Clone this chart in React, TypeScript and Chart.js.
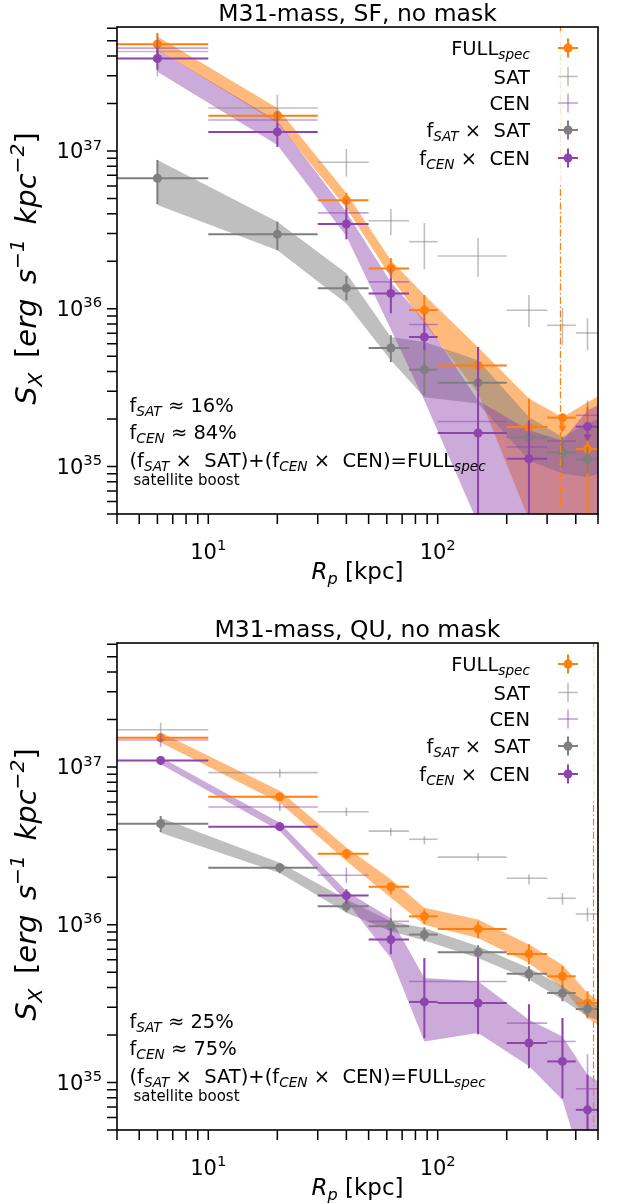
import React, { useEffect, useRef } from "react";
import { Chart, registerables } from "chart.js";

Chart.register(...registerables);

// ---------------- data ----------------
const TITLES = ["M31-mass, SF, no mask", "M31-mass, QU, no mask"];
const F_SAT_PCT = [16, 25];
const F_CEN_PCT = [84, 75];
const R_VIR = [343, 478];

const BIN_LO = [2, 10, 30, 50, 75, 100, 200, 300, 400, 500];
const BIN_HI = [10, 30, 50, 75, 100, 200, 300, 400, 500, 600];
const X_SF = [6, 20, 40, 62.5, 87.5, 150, 250, 350, 450, 550];
const X_QU = [6.2, 20.5, 40, 62.5, 87.5, 150, 250, 350, 450, 550];

const X_RANGE = [4, 500];
const Y_RANGE = [5e34, 6.1e37];
const X_TICKS = [4, 5, 6, 7, 8, 9, 10, 20, 30, 40, 50, 60, 70, 80, 90, 100, 200, 300, 400, 500];
const X_TICK_LABELS = [{ v: 10, base: "10", exp: "1" }, { v: 100, base: "10", exp: "2" }];
const Y_TICK_LABELS = [
  { v: 1e35, base: "10", exp: "35" },
  { v: 1e36, base: "10", exp: "36" },
  { v: 1e37, base: "10", exp: "37" },
];
const Y_MINOR_MULT = [1, 2, 3, 4, 5, 6, 7, 8, 9];
const Y_DECADES = [1e34, 1e35, 1e36, 1e37];

// ---- SF (top) ----
const fullSF = [4.75e37, 1.67e37, 4.86e36, 1.8e36, 9.8e35, 4.37e35, 1.78e35, 2.04e35, 1.29e35, null];
const fullSFLo = [4.07e37, 1.46e37, 4.33e36, 1.52e36, 8.09e35, 3.18e35, 1e33, null, 1e33, null];
const fullSFHi = [5.58e37, 1.78e37, 5.43e36, 2.09e36, 1.22e36, 5.71e35, 2.7e35, null, 2.38e35, null];
const fullSFUpper = [7];

const satSF = [4.27e37, 1.87e37, 8.48e36, 3.61e36, 2.66e36, 2.16e36, 9.77e35, 7.85e35, 7.02e35, null];
const satSFLo = [2.96e37, 1.43e37, 6.87e36, 2.93e36, 1.78e36, 1.59e36, 7.66e35, 5.86e35, 5.46e35, null];
const satSFHi = [5.61e37, 2.27e37, 1.03e37, 4.29e36, 3.49e36, 2.81e36, 1.22e36, 1.01e36, 8.71e35, null];

const cenSF = [4.48e37, 1.57e37, 4.05e36, 1.48e36, 7.94e35, 1.93e35, 1.33e35, 1.45e35, 2.11e35, null];
const cenSFLo = [3.89e37, 1.36e37, 3.39e36, 1.2e36, 5.7e35, 8.15e34, 1.01e35, null, 1.57e35, null];
const cenSFHi = [5.07e37, 1.79e37, 4.89e36, 1.81e36, 9.36e35, 2.83e35, 1.7e35, null, 2.62e35, null];
const cenSFUpper = [7];

const fsatSF = [6.71e36, 2.96e36, 1.35e36, 5.64e35, 4.11e35, 3.4e35, 1.53e35, 1.23e35, 1.11e35, null];
const fsatSFLo = [4.6e36, 2.35e36, 1.13e36, 4.59e35, 2.83e35, 1.78e35, 1.21e35, 9.91e34, 8.99e34, null];
const fsatSFHi = [8.77e36, 3.56e36, 1.61e36, 6.79e35, 5.86e35, 4.59e35, 1.96e35, 1.54e35, 1.33e35, null];

const fcenSF = [3.85e37, 1.32e37, 3.44e36, 1.25e36, 6.62e35, 1.63e35, 1.12e35, null, 1.79e35, null];
const fcenSFLo = [3.27e37, 1.06e37, 2.75e36, 9.36e35, 5.46e35, 1e33, 1e33, null, null, null];
const fcenSFHi = [4.49e37, 1.5e37, 4.33e36, 1.56e36, 8.09e35, 5.71e35, 1.96e35, null, null, null];
const fcenSFUpper = [8];

const fullBandSFHi = [5.32e37, 1.87e37, 5.41e36, 2.03e36, 1.22e36, 5.7e35, 2.7e35, 2.05e35, 2.55e35, 3.0e35];
const fullBandSFLo = [4.38e37, 1.51e37, 4.35e36, 1.58e36, 8.1e35, 2.91e35, 4.6e34, 1e33, 1e33, 1e33];
const fsatBandSFHi = [8.77e36, 3.56e36, 1.68e36, 6.62e35, 6.15e35, 4.71e35, 2.06e35, 1.54e35, 1.87e35, 2.11e35];
const fsatBandSFLo = [4.54e36, 2.35e36, 1.08e36, 4.71e35, 2.75e35, 2.51e35, 1.09e35, 9.03e34, 8.56e34, 9.44e34];
const fcenBandSFHi = [4.38e37, 1.55e37, 4.1e36, 1.47e36, 8.45e35, 2.62e35, 1.7e35, 1.46e35, 2.27e35, 2.62e35];
const fcenBandSFLo = [3.18e37, 1.09e37, 2.88e36, 7.41e35, 2.62e35, 4.35e34, 1e33, 1e33, 1e33, 1e33];

// ---- QU (bottom) ----
const fullQU = [1.53e37, 6.47e36, 2.82e36, 1.74e36, 1.13e36, 9.4e35, 6.53e35, 4.71e35, 3.19e35, null];
const fullQULo = [1.46e37, 6.08e36, 2.61e36, 1.56e36, 1.01e36, 8.2e35, 5.61e35, 3.89e35, 2.55e35, null];
const fullQUHi = [1.62e37, 6.84e36, 3.01e36, 1.84e36, 1.25e36, 1.05e36, 7.52e35, 5.46e35, 3.79e35, null];

const satQU = [1.72e37, 9.2e36, 5.2e36, 3.92e36, 3.48e36, 2.68e36, 1.97e36, 1.47e36, 1.17e36, null];
const satQULo = [1.46e37, 8.55e36, 4.89e36, 3.65e36, 3.23e36, 2.53e36, 1.8e36, 1.34e36, 1.05e36, null];
const satQUHi = [1.91e37, 9.71e36, 5.52e36, 4.12e36, 3.65e36, 2.86e36, 2.08e36, 1.59e36, 1.28e36, null];

const cenQU = [1.48e37, 5.57e36, 2.06e36, 1.05e36, 4.37e35, 4.37e35, 2.38e35, 1.82e35, 9.12e34, null];
const cenQULo = [1.34e37, 5.26e36, 1.84e36, 8.24e35, 2.97e35, 2.97e35, 1.82e35, 1.23e35, 4.54e34, null];
const cenQUHi = [1.62e37, 5.93e36, 2.3e36, 1.28e36, 6.15e35, 6.15e35, 3.13e35, 2.56e35, 1.51e35, null];

const fsatQU = [4.36e36, 2.3e36, 1.31e36, 9.77e35, 8.66e35, 6.68e35, 4.88e35, 3.69e35, 2.92e35, null];
const fsatQULo = [3.86e36, 2.12e36, 1.2e36, 8.71e35, 7.85e35, 6.04e35, 4.38e35, 3.27e35, 2.59e35, null];
const fsatQUHi = [4.89e36, 2.45e36, 1.43e36, 1.1e36, 9.64e35, 7.41e35, 5.46e35, 4.13e35, 3.27e35, null];

const fcenQU = [1.1e37, 4.18e36, 1.53e36, 8.05e35, 3.24e35, 3.19e35, 1.78e35, 1.36e35, 6.71e34, null];
const fcenQULo = [1.03e37, 3.93e36, 1.37e36, 6.5e35, 1.91e35, 2.02e35, 1.23e35, 7.94e34, 4.22e34, null];
const fcenQUHi = [1.17e37, 4.48e36, 1.68e36, 9.54e35, 6.15e35, 6.15e35, 3.13e35, 2.56e35, 1.12e35, null];

const fullBandQUHi = [1.65e37, 7.05e36, 3.08e36, 1.94e36, 1.28e36, 1.08e36, 7.48e35, 5.58e35, 3.69e35, 3.04e35];
const fullBandQULo = [1.43e37, 5.93e36, 2.53e36, 1.48e36, 1.0e36, 8.24e35, 5.71e35, 3.97e35, 2.56e35, 2.11e35];
const fsatBandQUHi = [4.76e36, 2.47e36, 1.45e36, 1.05e36, 9.54e35, 7.3e35, 5.32e35, 4.07e35, 3.19e35, 2.99e35];
const fsatBandQULo = [3.83e36, 2.13e36, 1.19e36, 9.1e35, 7.94e35, 6.15e35, 4.49e35, 3.35e35, 2.62e35, 2.37e35];
const fcenBandQUHi = [1.15e37, 4.43e36, 1.63e36, 1.1e36, 4.59e35, 4.38e35, 2.5e35, 1.96e35, 1.12e35, 9.44e34];
const fcenBandQULo = [1.04e37, 3.93e36, 1.41e36, 6.15e35, 1.82e35, 2.06e35, 1.27e35, 7.76e34, 2.35e34, 1.75e34];

// ---------------- styles ----------------
const C_ORANGE = "#ff7f0e";
const C_PURPLE = "#8e44ad";
const C_GRAY = "#7f7f7f";
const FF = '"DejaVu Sans", "Liberation Sans", Arial, sans-serif';

type Seg = { t: string; sub?: boolean; sup?: boolean; it?: boolean };
type Num = number | null;
interface Series { name: Seg[]; v: Num[]; lo: Num[]; hi: Num[]; ul: number[]; color: string; bar: string; marker: boolean; lw: number }
interface Band { lo: number[]; hi: number[]; fill: string }
interface Panel { title: string; x: number[]; rvir: number; fSat: number; fCen: number; series: Series[]; bands: Band[] }

const NAME_FULL: Seg[] = [{ t: "FULL" }, { t: "spec", sub: true, it: true }];
const NAME_SAT: Seg[] = [{ t: "SAT" }];
const NAME_CEN: Seg[] = [{ t: "CEN" }];
const NAME_FSAT: Seg[] = [{ t: "f" }, { t: "SAT", sub: true, it: true }, { t: " \u00d7  SAT" }];
const NAME_FCEN: Seg[] = [{ t: "f" }, { t: "CEN", sub: true, it: true }, { t: " \u00d7  CEN" }];

function mkSeries(v: Num[], lo: Num[], hi: Num[], ul: number[], kind: number): Series {
  const styles = [
    { name: NAME_FULL, color: C_ORANGE, bar: C_ORANGE, marker: true, lw: 2 },
    { name: NAME_SAT, color: C_GRAY, bar: "rgba(127,127,127,0.5)", marker: false, lw: 1.6 },
    { name: NAME_CEN, color: C_PURPLE, bar: "rgba(142,68,173,0.5)", marker: false, lw: 1.6 },
    { name: NAME_FSAT, color: C_GRAY, bar: C_GRAY, marker: true, lw: 2 },
    { name: NAME_FCEN, color: C_PURPLE, bar: C_PURPLE, marker: true, lw: 2 },
  ];
  return { v, lo, hi, ul, ...styles[kind] };
}

const PANELS: Panel[] = [
  {
    title: TITLES[0], x: X_SF, rvir: R_VIR[0], fSat: F_SAT_PCT[0], fCen: F_CEN_PCT[0],
    series: [
      mkSeries(fullSF, fullSFLo, fullSFHi, fullSFUpper, 0),
      mkSeries(satSF, satSFLo, satSFHi, [], 1),
      mkSeries(cenSF, cenSFLo, cenSFHi, cenSFUpper, 2),
      mkSeries(fsatSF, fsatSFLo, fsatSFHi, [], 3),
      mkSeries(fcenSF, fcenSFLo, fcenSFHi, fcenSFUpper, 4),
    ],
    bands: [
      { lo: fullBandSFLo, hi: fullBandSFHi, fill: "rgba(255,127,14,0.55)" },
      { lo: fsatBandSFLo, hi: fsatBandSFHi, fill: "rgba(127,127,127,0.5)" },
      { lo: fcenBandSFLo, hi: fcenBandSFHi, fill: "rgba(142,68,173,0.45)" },
    ],
  },
  {
    title: TITLES[1], x: X_QU, rvir: R_VIR[1], fSat: F_SAT_PCT[1], fCen: F_CEN_PCT[1],
    series: [
      mkSeries(fullQU, fullQULo, fullQUHi, [], 0),
      mkSeries(satQU, satQULo, satQUHi, [], 1),
      mkSeries(cenQU, cenQULo, cenQUHi, [], 2),
      mkSeries(fsatQU, fsatQULo, fsatQUHi, [], 3),
      mkSeries(fcenQU, fcenQULo, fcenQUHi, [], 4),
    ],
    bands: [
      { lo: fullBandQULo, hi: fullBandQUHi, fill: "rgba(255,127,14,0.55)" },
      { lo: fsatBandQULo, hi: fsatBandQUHi, fill: "rgba(127,127,127,0.5)" },
      { lo: fcenBandQULo, hi: fcenBandQUHi, fill: "rgba(142,68,173,0.45)" },
    ],
  },
];

// ---------------- text helpers ----------------
const fnt = (size: number, it?: boolean) => `${it ? "italic " : ""}${size}px ${FF}`;

function richWidth(ctx: CanvasRenderingContext2D, segs: Seg[], size: number) {
  let w = 0;
  for (const s of segs) {
    ctx.font = fnt(s.sub || s.sup ? size * 0.7 : size, s.it);
    w += ctx.measureText(s.t).width;
  }
  return w;
}

function drawRich(ctx: CanvasRenderingContext2D, segs: Seg[], x: number, y: number, size: number, align: string, color = "#000") {
  const w = richWidth(ctx, segs, size);
  let cx = align === "left" ? x : align === "right" ? x - w : x - w / 2;
  ctx.save();
  ctx.fillStyle = color;
  ctx.textAlign = "left";
  ctx.textBaseline = "alphabetic";
  for (const s of segs) {
    ctx.font = fnt(s.sub || s.sup ? size * 0.7 : size, s.it);
    const dy = s.sub ? size * 0.22 : s.sup ? -size * 0.42 : 0;
    ctx.fillText(s.t, cx, y + dy);
    cx += ctx.measureText(s.t).width;
  }
  ctx.restore();
}

function clipArea(ctx: CanvasRenderingContext2D, a: any) {
  ctx.beginPath();
  ctx.rect(a.left, a.top, a.right - a.left, a.bottom - a.top);
  ctx.clip();
}

function drawErrorbars(chart: any, s: Series, xs: number[]) {
  const { ctx, chartArea: a } = chart;
  const sx = chart.scales.x, sy = chart.scales.y;
  ctx.save();
  clipArea(ctx, a);
  ctx.strokeStyle = s.bar;
  ctx.fillStyle = s.bar;
  ctx.lineWidth = s.lw;
  xs.forEach((x, i) => {
    const v = s.v[i];
    if (v == null) return;
    const px = sx.getPixelForValue(x), py = sy.getPixelForValue(v);
    ctx.beginPath();
    ctx.moveTo(sx.getPixelForValue(BIN_LO[i]), py);
    ctx.lineTo(sx.getPixelForValue(BIN_HI[i]), py);
    ctx.stroke();
    const lo = s.lo[i], hi = s.hi[i];
    if (lo != null && hi != null) {
      ctx.beginPath();
      ctx.moveTo(px, sy.getPixelForValue(hi));
      ctx.lineTo(px, sy.getPixelForValue(lo));
      ctx.stroke();
    }
    if (s.ul.includes(i)) {
      const L = 14;
      ctx.beginPath();
      ctx.moveTo(px, py);
      ctx.lineTo(px, py + L - 3);
      ctx.stroke();
      ctx.beginPath();
      ctx.moveTo(px - 4, py + L - 6);
      ctx.lineTo(px + 4, py + L - 6);
      ctx.lineTo(px, py + L + 1);
      ctx.closePath();
      ctx.fill();
    }
  });
  ctx.restore();
}

function decorPlugin(p: Panel) {
  return {
    id: "decor",
    beforeDatasetDraw(chart: any, args: any) {
      const ds: any = chart.data.datasets[args.index];
      if (ds.seriesIndex === undefined) return;
      drawErrorbars(chart, p.series[ds.seriesIndex], p.x);
    },
    afterDatasetsDraw(chart: any) {
      const { ctx, chartArea: a } = chart;
      const sx = chart.scales.x, sy = chart.scales.y;

      // vertical dash-dot line
      ctx.save();
      clipArea(ctx, a);
      ctx.strokeStyle = C_ORANGE;
      ctx.lineWidth = 1.2;
      ctx.setLineDash([7, 2.5, 1.5, 2.5]);
      const vx = sx.getPixelForValue(p.rvir);
      ctx.beginPath();
      ctx.moveTo(vx, a.top);
      ctx.lineTo(vx, a.bottom);
      ctx.stroke();
      ctx.restore();

      // legend
      ctx.save();
      ctx.fillStyle = "rgba(255,255,255,0.8)";
      ctx.fillRect(a.right - 190, a.top + 4, 186, 152);
      ctx.restore();
      const rows = [21, 49.5, 76, 103, 131];
      p.series.forEach((s, k) => {
        const cy = a.top + rows[k];
        drawRich(ctx, s.name, a.right - 68, cy + 7, 19.5, "right");
        const mx = a.right - 30;
        ctx.save();
        ctx.strokeStyle = s.bar;
        ctx.lineWidth = s.lw;
        ctx.beginPath();
        ctx.moveTo(mx - 10, cy);
        ctx.lineTo(mx + 10, cy);
        ctx.stroke();
        ctx.beginPath();
        ctx.moveTo(mx, cy - 9.5);
        ctx.lineTo(mx, cy + 9.5);
        ctx.stroke();
        if (s.marker) {
          ctx.fillStyle = s.color;
          ctx.beginPath();
          ctx.arc(mx, cy, 4.5, 0, Math.PI * 2);
          ctx.fill();
        }
        ctx.restore();
      });

      // annotations
      const ax = a.left + 12.5;
      drawRich(ctx, [{ t: "f" }, { t: "SAT", sub: true, it: true }, { t: ` \u2248 ${p.fSat}%` }], ax, a.top + 385, 19.5, "left");
      drawRich(ctx, [{ t: "f" }, { t: "CEN", sub: true, it: true }, { t: ` \u2248 ${p.fCen}%` }], ax, a.top + 411.5, 19.5, "left");
      drawRich(ctx, [
        { t: "(f" }, { t: "SAT", sub: true, it: true }, { t: " \u00d7  SAT)+(f" },
        { t: "CEN", sub: true, it: true }, { t: " \u00d7  CEN)=FULL" }, { t: "spec", sub: true, it: true },
      ], ax, a.top + 440, 19.5, "left");
      drawRich(ctx, [{ t: "satellite boost" }], a.left + 16.5, a.top + 457.5, 15, "left");

      // frame
      ctx.save();
      ctx.strokeStyle = "#000";
      ctx.lineWidth = 1.6;
      ctx.strokeRect(a.left, a.top, a.right - a.left, a.bottom - a.top);
      // ticks
      ctx.lineWidth = 1.5;
      ctx.beginPath();
      X_TICKS.forEach((t) => {
        const px = sx.getPixelForValue(t);
        ctx.moveTo(px, a.bottom);
        ctx.lineTo(px, a.bottom + 10);
      });
      Y_DECADES.forEach((d) => {
        Y_MINOR_MULT.forEach((m) => {
          const v = d * m;
          if (v < Y_RANGE[0] || v > Y_RANGE[1]) return;
          const py = sy.getPixelForValue(v);
          ctx.moveTo(a.left, py);
          ctx.lineTo(a.left - 10, py);
        });
      });
      ctx.stroke();
      ctx.restore();

      // tick labels
      X_TICK_LABELS.forEach((t) => {
        const px = sx.getPixelForValue(t.v);
        drawRich(ctx, [{ t: t.base }, { t: t.exp, sup: true }], px, a.bottom + 45, 21, "center");
      });
      Y_TICK_LABELS.forEach((t) => {
        const py = sy.getPixelForValue(t.v);
        drawRich(ctx, [{ t: t.base }, { t: t.exp, sup: true }], a.left - 15, py + 7.5, 21, "right");
      });

      // axis labels
      const cxm = (a.left + a.right) / 2;
      drawRich(ctx, [{ t: "R", it: true }, { t: "p", sub: true, it: true }, { t: " [kpc]" }], cxm, a.bottom + 65, 23, "center");
      ctx.save();
      ctx.translate(36, (a.top + a.bottom) / 2 - 2);
      ctx.rotate(-Math.PI / 2);
      drawRich(ctx, [
        { t: "S", it: true }, { t: "X", sub: true, it: true }, { t: "\u2002[" }, { t: "erg", it: true }, { t: "\u2002" },
        { t: "s", it: true }, { t: "\u22121", sup: true, it: true }, { t: "\u2002" }, { t: "kpc", it: true },
        { t: "\u22122", sup: true, it: true }, { t: "]" },
      ], 0, 0, 29, "center");
      ctx.restore();

      // title
      drawRich(ctx, [{ t: p.title }], cxm, a.top - 6, 23.5, "center");
    },
  };
}

function makeConfig(p: Panel, pad: any): any {
  const datasets: any[] = [];
  p.bands.forEach((b, k) => {
    datasets.push({
      type: "line", data: p.x.map((x, i) => ({ x, y: b.lo[i] })), borderColor: "rgba(0,0,0,0)", borderWidth: 0,
      pointRadius: 0, pointHoverRadius: 0, fill: false, order: 100 - 2 * k, tension: 0,
    });
    datasets.push({
      type: "line", data: p.x.map((x, i) => ({ x, y: b.hi[i] })), borderColor: "rgba(0,0,0,0)", borderWidth: 0,
      pointRadius: 0, pointHoverRadius: 0, fill: "-1", backgroundColor: b.fill, order: 99 - 2 * k, tension: 0,
    });
  });
  p.series.forEach((s, k) => {
    const pts: any[] = [];
    p.x.forEach((x, i) => {
      const v = s.v[i];
      if (v != null) pts.push({ x, y: v });
    });
    datasets.push({
      type: "line", data: pts, showLine: false, pointRadius: s.marker ? 4.5 : 0, pointHoverRadius: 0,
      pointBackgroundColor: s.color, pointBorderColor: s.color, pointBorderWidth: 0,
      backgroundColor: s.color, borderColor: s.color, order: 10 - k, seriesIndex: k,
    });
  });
  return {
    type: "line",
    data: { datasets },
    options: {
      animation: false, responsive: false, maintainAspectRatio: false, devicePixelRatio: 1, events: [],
      layout: { padding: pad },
      plugins: { legend: { display: false }, tooltip: { enabled: false }, title: { display: false } },
      scales: {
        x: { type: "logarithmic", min: X_RANGE[0], max: X_RANGE[1], display: false },
        y: { type: "logarithmic", min: Y_RANGE[0], max: Y_RANGE[1], display: false },
      },
    },
    plugins: [decorPlugin(p)],
  };
}

function PanelChart({ panel, top, pad }: { panel: Panel; top: number; pad: any }) {
  const ref = useRef<HTMLCanvasElement>(null);
  useEffect(() => {
    const chart = new Chart(ref.current as HTMLCanvasElement, makeConfig(panel, pad));
    return () => chart.destroy();
  }, []);
  return (
    <canvas ref={ref} width={622} height={602}
      style={{ position: "absolute", left: 0, top, width: 622, height: 602, display: "block" }} />
  );
}

export default function App() {
  return (
    <div style={{ position: "absolute", left: 0, top: 0, width: 622, height: 1204, background: "#fff", overflow: "hidden" }}>
      <PanelChart panel={PANELS[0]} top={0} pad={{ left: 117, right: 24, top: 27, bottom: 88 }} />
      <PanelChart panel={PANELS[1]} top={602} pad={{ left: 117, right: 24, top: 41, bottom: 74 }} />
    </div>
  );
}
